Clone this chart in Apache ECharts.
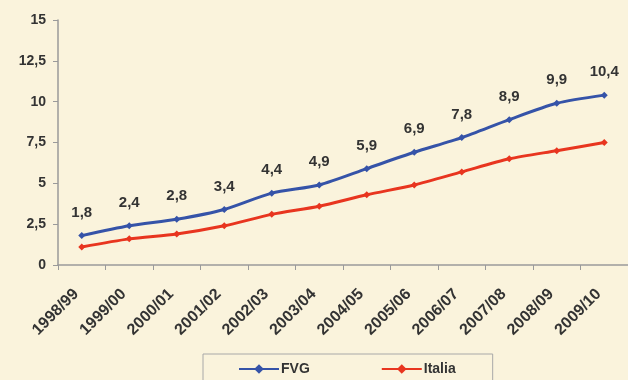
<!DOCTYPE html>
<html>
<head>
<meta charset="utf-8">
<script src="https://cdn.jsdelivr.net/npm/echarts@6/dist/echarts.min.js"></script>
<style>
html,body{margin:0;padding:0;background:#FAF3DC;}
#c{width:628px;height:380px;}
</style>
</head>
<body>
<div id="c"></div>
<script>
const categories = ['1998/99','1999/00','2000/01','2001/02','2002/03','2003/04','2004/05','2005/06','2006/07','2007/08','2008/09','2009/10'];
const fvgValues = [1.8, 2.4, 2.8, 3.4, 4.4, 4.9, 5.9, 6.9, 7.8, 8.9, 9.9, 10.4];
const italiaValues = [1.1, 1.6, 1.9, 2.4, 3.1, 3.6, 4.3, 4.9, 5.7, 6.5, 7.0, 7.5];
const yTicks = [0, 2.5, 5, 7.5, 10, 12.5, 15];

const fmt = v => String(v).replace('.', ',');
const chart = echarts.init(document.getElementById('c'), null, {renderer: 'canvas'});
chart.setOption({
  backgroundColor: '#FAF3DC',
  animation: false,
  textStyle: {fontFamily: 'Liberation Sans, Arial, sans-serif'},
  grid: {left: 58, top: 20, width: 577, height: 245, containLabel: false},
  xAxis: {
    type: 'category',
    data: categories,
    boundaryGap: true,
    axisLine: {lineStyle: {color: '#9a9a9a', width: 1.5}},
    axisTick: {show: true, length: 5, lineStyle: {color: '#9a9a9a'}},
    axisLabel: {rotate: 45, interval: 0, fontSize: 16, fontWeight: 'bold', color: '#333', margin: 21, padding: [0, 8, 0, 0]}
  },
  yAxis: {
    type: 'value',
    min: yTicks[0], max: yTicks[yTicks.length - 1], interval: 2.5,
    axisLine: {show: true, lineStyle: {color: '#9a9a9a', width: 1.5}},
    axisTick: {show: true, length: 5, lineStyle: {color: '#9a9a9a'}},
    splitLine: {show: false},
    axisLabel: {fontSize: 14, fontWeight: 'bold', color: '#333', margin: 12, formatter: fmt}
  },
  legend: {
    left: 203, top: 354,
    padding: [8, 37, 20, 35],
    itemGap: 71, itemWidth: 40, itemHeight: 12,
    borderColor: '#a8a8a8', borderWidth: 1,
    textStyle: {fontSize: 14, fontWeight: 'bold', color: '#333', padding: [0, 0, 0, -3]},
    data: [{name: 'FVG'}, {name: 'Italia'}]
  },
  series: [
    {
      name: 'FVG', type: 'line', data: fvgValues, smooth: 0.25,
      symbol: 'diamond', symbolSize: 7,
      lineStyle: {color: '#3553A8', width: 3},
      itemStyle: {color: '#3553A8'},
      label: {show: true, position: 'top', distance: 12, fontSize: 15, fontWeight: 'bold', color: '#333',
              formatter: p => fmt(p.value)}
    },
    {
      name: 'Italia', type: 'line', data: italiaValues, smooth: 0.25,
      symbol: 'diamond', symbolSize: 7,
      lineStyle: {color: '#E8351F', width: 3},
      itemStyle: {color: '#E8351F'}
    }
  ]
});
</script>
</body>
</html>
